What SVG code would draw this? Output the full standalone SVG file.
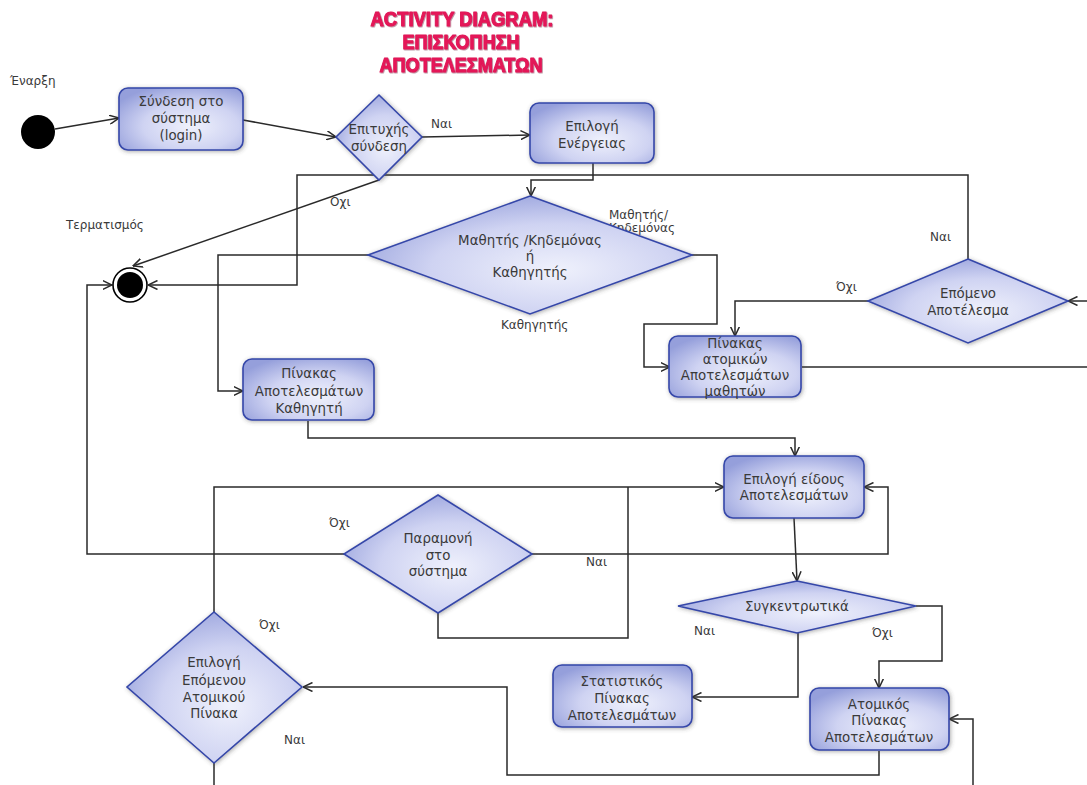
<svg xmlns="http://www.w3.org/2000/svg" width="1087" height="785" viewBox="0 0 1087 785">
  <style>
    .node { fill: url(#nodeFill); stroke: #3547a9; stroke-width: 1.6; filter: url(#soft); }
    .lbl { font-family: "DejaVu Sans", "Liberation Sans", sans-serif; font-size: 13.4px; fill: #3a3a3a; text-anchor: middle; }
    .tag { font-family: "DejaVu Sans", "Liberation Sans", sans-serif; font-size: 12px; fill: #3a3a3a; }
    .title { font-family: "Liberation Sans", "DejaVu Sans", sans-serif; font-weight: bold; font-size: 21px; fill: #e6195a; stroke: #e01656; stroke-width: 1.1; stroke-linejoin: round; text-anchor: middle; filter: url(#titleShadow); }
    .flow { fill: none; stroke: #2a2a2a; stroke-width: 1.5; }
    .arrow { marker-end: url(#open); }
  </style>
  <defs>
    <radialGradient id="nodeFill" cx="58%" cy="62%" r="70%">
      <stop offset="0" stop-color="#eff1fc"/>
      <stop offset="0.55" stop-color="#cfd3f2"/>
      <stop offset="1" stop-color="#959fdb"/>
    </radialGradient>
    <filter id="soft" x="-20%" y="-20%" width="140%" height="140%">
      <feDropShadow dx="1" dy="1" stdDeviation="2.2" flood-color="#444" flood-opacity="0.45"/>
    </filter>
    <filter id="titleShadow" x="-10%" y="-30%" width="120%" height="160%">
      <feDropShadow dx="0.8" dy="0.8" stdDeviation="0.6" flood-color="#5a0020" flood-opacity="0.5"/>
    </filter>
    <marker id="open" viewBox="0 0 10 10" refX="9.5" refY="5" markerWidth="10" markerHeight="10" markerUnits="userSpaceOnUse" orient="auto">
      <path d="M0,0.5 L9.5,5 L0,9.5" fill="none" stroke="#2a2a2a" stroke-width="1.5"/>
    </marker>
  </defs>

  <rect width="1087" height="785" fill="#ffffff"/>

  <!-- heading -->
  <g id="heading">
    <text class="title" x="462" y="26" textLength="183" lengthAdjust="spacingAndGlyphs">ACTIVITY DIAGRAM:</text>
    <text class="title" x="461" y="49" textLength="117" lengthAdjust="spacingAndGlyphs">ΕΠΙΣΚΟΠΗΣΗ</text>
    <text class="title" x="461" y="72" textLength="163" lengthAdjust="spacingAndGlyphs">ΑΠΟΤΕΛΕΣΜΑΤΩΝ</text>
  </g>

  <!-- connectors -->
  <g id="connectors">
    <path class="flow arrow" d="M55,129 L119,118"/>
    <path class="flow arrow" d="M243,120 L336,137"/>
    <path class="flow arrow" d="M422,137 L530,135"/>
    <path class="flow arrow" d="M379,180 L133,266"/>
    <path class="flow arrow" d="M593,163 V180 H531 V196"/>
    <path class="flow arrow" d="M968,259 V175 H297 V285 H148"/>
    <path class="flow arrow" d="M368,255 H218 V391 H243"/>
    <path class="flow arrow" d="M692,255 H717 V324 H644 V367 H670"/>
    <path class="flow arrow" d="M868,301 H735 V336"/>
    <path class="flow" d="M802,367 H1087"/>
    <path class="flow arrow" d="M1087,301 H1068"/>
    <path class="flow arrow" d="M308,421 V438 H795 V456"/>
    <path class="flow arrow" d="M214,612 V487 H724"/>
    <path class="flow" d="M438,613 V638 H628 V487"/>
    <path class="flow arrow" d="M532,554 H888 V487 H864"/>
    <path class="flow arrow" d="M344,554 H87 V285 H112"/>
    <path class="flow arrow" d="M794,518 L797,581"/>
    <path class="flow arrow" d="M798,633 V697 H692"/>
    <path class="flow arrow" d="M916,606 H942 V661 H879 V688"/>
    <path class="flow arrow" d="M879,751 V775 H507 V687 H303"/>
    <path class="flow arrow" d="M973,785 V719 H949"/>
    <path class="flow" d="M214,763 V785"/>
  </g>

  <!-- guard and state captions -->
  <g id="captions">
    <text class="tag" x="10" y="85">Έναρξη</text>
    <text class="tag" x="66" y="229">Τερματισμός</text>
    <text class="tag" x="431" y="128">Ναι</text>
    <text class="tag" x="330" y="206">Οχι</text>
    <text class="tag" x="609" y="219">Μαθητής/</text>
    <text class="tag" x="609" y="232">Κηδεμόνας</text>
    <text class="tag" x="501" y="329">Καθηγητής</text>
    <text class="tag" x="930" y="241">Ναι</text>
    <text class="tag" x="836" y="291">Όχι</text>
    <text class="tag" x="329" y="527">Όχι</text>
    <text class="tag" x="586" y="566">Ναι</text>
    <text class="tag" x="694" y="635">Ναι</text>
    <text class="tag" x="872" y="637">Όχι</text>
    <text class="tag" x="259" y="629">Όχι</text>
    <text class="tag" x="284" y="744">Ναι</text>
  </g>

  <!-- initial and final nodes -->
  <g id="start">
    <circle cx="38" cy="132" r="17" fill="#000"/>
  </g>
  <g id="end">
    <circle cx="130" cy="285" r="17" fill="#fff" stroke="#000" stroke-width="1.6"/>
    <circle cx="130" cy="285" r="13" fill="#000"/>
  </g>

  <g id="login">
    <rect class="node" x="119" y="88" width="124" height="62" rx="9"/>
    <text class="lbl" x="181" y="106">Σύνδεση στο</text>
    <text class="lbl" x="181" y="123">σύστημα</text>
    <text class="lbl" x="181" y="140">(login)</text>
  </g>

  <g id="login-ok">
    <polygon class="node" points="379,95 422,137 379,180 336,137"/>
    <text class="lbl" x="379" y="134">Επιτυχής</text>
    <text class="lbl" x="379" y="151">σύνδεση</text>
  </g>

  <g id="choose-action">
    <rect class="node" x="530" y="103" width="124" height="60" rx="9"/>
    <text class="lbl" x="592" y="131">Επιλογή</text>
    <text class="lbl" x="592" y="148">Ενέργειας</text>
  </g>

  <g id="user-role">
    <polygon class="node" points="530,196 692,255 530,314 368,255"/>
    <text class="lbl" x="530" y="245">Μαθητής /Κηδεμόνας</text>
    <text class="lbl" x="530" y="261">ή</text>
    <text class="lbl" x="530" y="277">Καθηγητής</text>
  </g>

  <g id="next-result">
    <polygon class="node" points="968,259 1068,301 968,343 868,301"/>
    <text class="lbl" x="968" y="298">Επόμενο</text>
    <text class="lbl" x="968" y="315">Αποτέλεσμα</text>
  </g>

  <g id="student-table">
    <rect class="node" x="669" y="336" width="132" height="61" rx="9"/>
    <text class="lbl" x="735" y="348">Πίνακας</text>
    <text class="lbl" x="735" y="364">ατομικών</text>
    <text class="lbl" x="735" y="380">Αποτελεσμάτων</text>
    <text class="lbl" x="735" y="396">μαθητών</text>
  </g>

  <g id="teacher-table">
    <rect class="node" x="243" y="359" width="131" height="61" rx="9"/>
    <text class="lbl" x="309" y="378">Πίνακας</text>
    <text class="lbl" x="309" y="396">Αποτελεσμάτων</text>
    <text class="lbl" x="309" y="413">Καθηγητή</text>
  </g>

  <g id="result-kind">
    <rect class="node" x="724" y="456" width="140" height="62" rx="9"/>
    <text class="lbl" x="794" y="484">Επιλογή είδους</text>
    <text class="lbl" x="794" y="500">Αποτελεσμάτων</text>
  </g>

  <g id="stay">
    <polygon class="node" points="438,495 532,554 438,613 344,554"/>
    <text class="lbl" x="438" y="543">Παραμονή</text>
    <text class="lbl" x="438" y="560">στο</text>
    <text class="lbl" x="438" y="576">σύστημα</text>
  </g>

  <g id="summary">
    <polygon class="node" points="797,581 916,606 797,633 678,606"/>
    <text class="lbl" x="797" y="611">Συγκεντρωτικά</text>
  </g>

  <g id="stats-table">
    <rect class="node" x="553" y="665" width="139" height="62" rx="9"/>
    <text class="lbl" x="622" y="686">Στατιστικός</text>
    <text class="lbl" x="622" y="703">Πίνακας</text>
    <text class="lbl" x="622" y="720">Αποτελεσμάτων</text>
  </g>

  <g id="single-table">
    <rect class="node" x="810" y="688" width="139" height="62" rx="9"/>
    <text class="lbl" x="879" y="709">Ατομικός</text>
    <text class="lbl" x="879" y="725">Πίνακας</text>
    <text class="lbl" x="879" y="742">Αποτελεσμάτων</text>
  </g>

  <g id="next-single">
    <polygon class="node" points="214,612 302,687 214,763 127,687"/>
    <text class="lbl" x="214" y="667">Επιλογή</text>
    <text class="lbl" x="214" y="685">Επόμενου</text>
    <text class="lbl" x="214" y="702">Ατομικού</text>
    <text class="lbl" x="214" y="718">Πίνακα</text>
  </g>
</svg>
